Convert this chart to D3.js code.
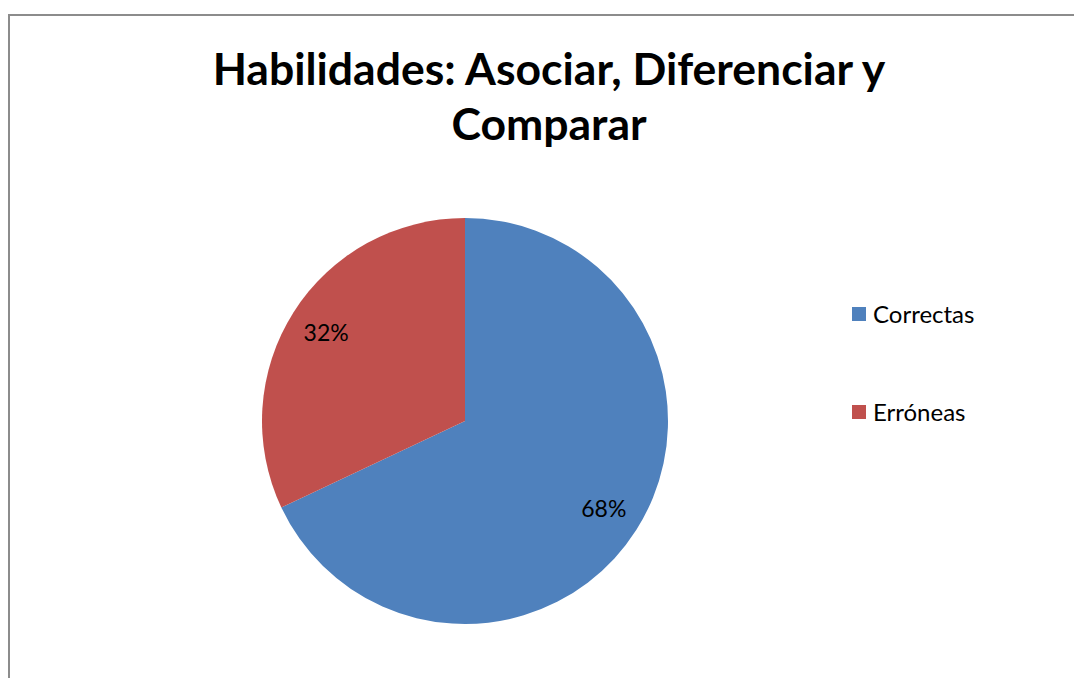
<!DOCTYPE html>
<html>
<head>
<meta charset="utf-8">
<script src="https://cdn.jsdelivr.net/npm/d3@7"></script>
<style>
  body { margin: 0; background: #fff; }
  text { font-family: Lato, "Open Sans", sans-serif; }
</style>
</head>
<body>
<div id="chart"></div>
<script>
// datos del gráfico
const categories = ["Correctas", "Erróneas"];
const values = [68, 32];
const colors = ["#4F81BD", "#C0504D"];
const titleLines = ["Habilidades: Asociar, Diferenciar y", "Comparar"];

const width = 1074, height = 678;

const svg = d3.select("#chart")
    .append("svg")
    .attr("width", width)
    .attr("height", height);

// borde del área del gráfico (sólo arriba e izquierda visibles)
svg.append("path")
    .attr("d", `M9,${height} L9,15 L${width},15`)
    .attr("fill", "none")
    .attr("stroke", "#8c8c8c")
    .attr("stroke-width", 2);

// título
svg.append("g")
    .selectAll("text")
    .data(titleLines)
    .enter().append("text")
    .attr("x", 549)
    .attr("y", (d, i) => 85 + i * 55)
    .attr("text-anchor", "middle")
    .attr("font-size", "44.5px")
    .attr("font-weight", "bold")
    .attr("fill", "#000")
    .text(d => d);

const cx = 465, cy = 421, r = 203;

const pie = d3.pie().sort(null).value(d => d);
const arc = d3.arc().innerRadius(0).outerRadius(r);
const labelArc = d3.arc().innerRadius(r * 0.81).outerRadius(r * 0.81);

const total = d3.sum(values);
const g = svg.append("g").attr("transform", `translate(${cx},${cy})`);

const arcs = pie(values);

g.selectAll("path")
    .data(arcs)
    .enter().append("path")
    .attr("d", arc)
    .attr("fill", (d, i) => colors[i]);

g.selectAll(".slice-label")
    .data(arcs)
    .enter().append("text")
    .attr("class", "slice-label")
    .attr("transform", d => `translate(${labelArc.centroid(d)})`)
    .attr("text-anchor", "middle")
    .attr("dy", "0.35em")
    .attr("font-size", "23px")
    .attr("fill", "#000")
    .text(d => Math.round(d.data / total * 100) + "%");

// leyenda
const legend = svg.append("g")
    .selectAll("g")
    .data(categories)
    .enter().append("g")
    .attr("transform", (d, i) => `translate(852,${307 + i * 98})`);

legend.append("rect")
    .attr("width", 14)
    .attr("height", 14)
    .attr("fill", (d, i) => colors[i]);

legend.append("text")
    .attr("x", 21)
    .attr("y", 7)
    .attr("dy", "0.36em")
    .attr("font-size", "24px")
    .attr("fill", "#000")
    .text(d => d);
</script>
</body>
</html>
